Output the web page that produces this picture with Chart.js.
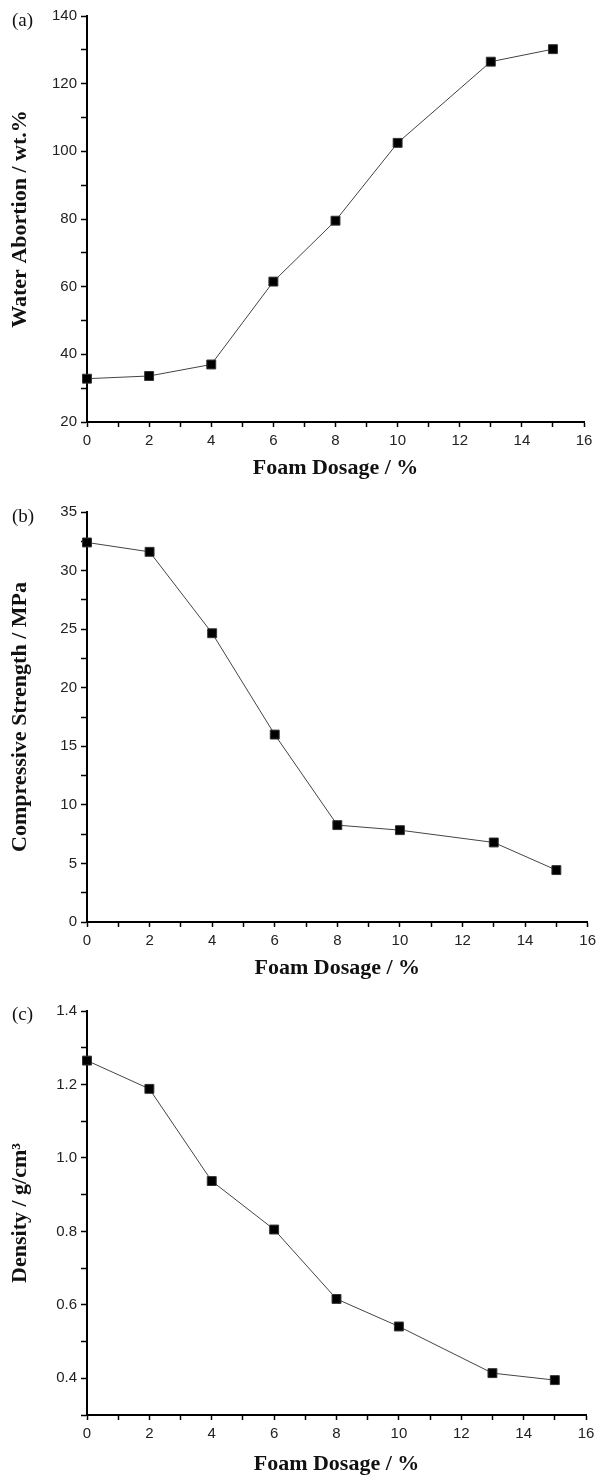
<!DOCTYPE html>
<html>
<head>
<meta charset="utf-8">
<script src="https://cdn.jsdelivr.net/npm/chart.js@4.4.0/dist/chart.umd.min.js"></script>
<style>
  body { margin: 0; background: #fff; }
  #page { position: relative; width: 601px; height: 1478px; }
  .panel { position: absolute; left: 0; width: 601px; }
  .tag { position: absolute; left: 12px; font: 19px 'Liberation Serif', serif; color: #111; }
</style>
</head>
<body>
<div id="page">
  <div class="panel" style="top:0;height:482px"><canvas id="chartA"></canvas></div>
  <div class="panel" style="top:482px;height:500px"><canvas id="chartB"></canvas></div>
  <div class="panel" style="top:982px;height:496px"><canvas id="chartC"></canvas></div>
  <div class="tag" style="top:9px">(a)</div>
  <div class="tag" style="top:505px">(b)</div>
  <div class="tag" style="top:1003px">(c)</div>
</div>
<script>
// foam dosage (%) used for every panel
const dosage = [0, 2, 4, 6, 8, 10, 13, 15];
const waterAbsorption = [32.8, 33.6, 37.0, 61.5, 79.5, 102.5, 126.5, 130.2];
const compressiveStrength = [32.4, 31.6, 24.65, 16.0, 8.27, 7.84, 6.79, 4.43];
const density = [1.265, 1.188, 0.937, 0.805, 0.616, 0.541, 0.414, 0.395];

const xTitle = 'Foam Dosage / %';
const yTitles = ['Water Abortion / wt.%', 'Compressive Strength / MPa', 'Density / g/cm\u00B3'];

const tickFont = { family: "'Liberation Sans', Arial, sans-serif", size: 15 };
const titleFont = { family: "'Liberation Serif', 'Times New Roman', serif", size: 22, weight: 'bold', lineHeight: 1.2 };

function makeChart(id, values, yTitle, y, pad) {
    const ctx = document.getElementById(id).getContext('2d');
    return new Chart(ctx, {
        type: 'line',
        data: {
            datasets: [{
                data: dosage.map((d, i) => ({ x: d, y: values[i] })),
                borderColor: '#444',
                borderWidth: 1,
                pointStyle: 'rect',
                pointRadius: 6.3,
                pointBackgroundColor: '#000',
                pointBorderColor: '#333',
                pointBorderWidth: 1,
                tension: 0,
                clip: false
            }]
        },
        options: {
            responsive: true,
            maintainAspectRatio: false,
            animation: false,
            layout: { padding: { top: pad.top, left: 7, right: pad.right, bottom: 0 } },
            plugins: { legend: { display: false }, tooltip: { enabled: false } },
            scales: {
                x: {
                    type: 'linear',
                    min: 0,
                    max: 16,
                    afterFit: (s) => { s.height = pad.xh; },
                    border: { display: true, color: '#000', width: 2 },
                    grid: { drawOnChartArea: false, drawTicks: true, tickLength: 5, tickColor: '#000', tickWidth: 1.5 },
                    ticks: {
                        stepSize: 1,
                        autoSkip: false,
                        maxRotation: 0,
                        padding: 5,
                        color: '#222',
                        font: tickFont,
                        callback: (v) => (v % 2 === 0 ? v : '')
                    },
                    title: { display: true, text: xTitle, color: '#111', font: titleFont, padding: 0 }
                },
                y: {
                    min: y.min,
                    max: y.max,
                    afterFit: (s) => { s.width = 80; },
                    border: { display: true, color: '#000', width: 2 },
                    grid: { drawOnChartArea: false, drawTicks: true, tickLength: 6, tickColor: '#000', tickWidth: 1.5 },
                    ticks: {
                        stepSize: y.step,
                        autoSkip: false,
                        padding: 4,
                        color: '#222',
                        font: tickFont,
                        callback: y.label
                    },
                    title: { display: true, text: yTitle, color: '#111', font: titleFont, padding: 0 }
                }
            }
        }
    });
}

makeChart('chartA', waterAbsorption, yTitles[0],
    { min: 20, max: 140, step: 10, label: (v) => (v % 20 === 0 ? v : '') },
    { top: 16, right: 17, xh: 60 });

makeChart('chartB', compressiveStrength, yTitles[1],
    { min: 0, max: 35, step: 2.5, label: (v) => (v % 5 === 0 ? v : '') },
    { top: 30, right: 11, xh: 60 });

makeChart('chartC', density, yTitles[2],
    { min: 0.3, max: 1.4, step: 0.1, label: (v) => (Math.round(v * 10) % 2 === 0 ? v.toFixed(1) : '') },
    { top: 29, right: 15, xh: 63 });
</script>
</body>
</html>
